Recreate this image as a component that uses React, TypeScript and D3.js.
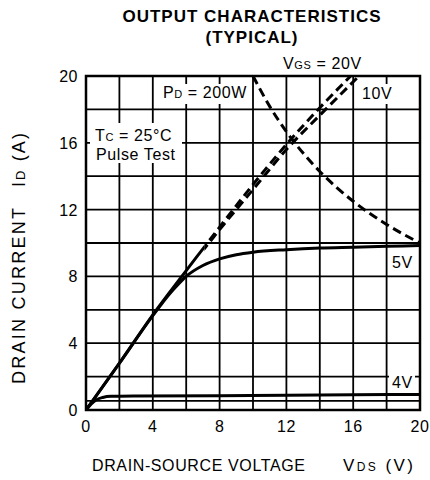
import React from 'react';
import * as d3 from 'd3';

const xTicks = [0, 4, 8, 12, 16, 20];
const yTicks = [0, 4, 8, 12, 16, 20];
const gridX = [2, 4, 6, 8, 10, 12, 14, 16, 18];
const gridY = [0.55, 2, 4, 6, 8, 10, 12, 14, 16, 18];

// VGS = 20V
const vgs20V = [0, 2, 4, 6, 7, 8, 10, 12, 14, 15.85];
const vgs20I = [0, 2.8, 5.7, 8.35, 9.65, 10.95, 13.5, 15.9, 18.1, 20];
// VGS = 10V
const vgs10V = [0, 2, 4, 6, 7, 8, 10, 12, 14, 16.35];
const vgs10I = [0, 2.8, 5.7, 8.3, 9.55, 10.8, 13.2, 15.6, 17.65, 20];
// VGS = 5V
const vgs5V = [0, 2, 4, 5, 5.5, 6, 7, 8, 9, 10, 12, 14, 16, 18, 20];
const vgs5I = [0, 2.8, 5.65, 6.95, 7.5, 8.0, 8.65, 9.05, 9.3, 9.45, 9.6, 9.7, 9.75, 9.8, 9.85];
// VGS = 4V
const vgs4V = [0, 0.3, 0.6, 1, 1.5, 3, 8, 12, 16, 20];
const vgs4I = [0, 0.35, 0.6, 0.75, 0.82, 0.84, 0.86, 0.88, 0.91, 0.93];
// PD = 200W
const pdV = [10, 11, 12, 13, 14, 15, 16, 17, 18, 19, 20];
const pdPower = 200;

const solidLimitV = 7.1;

export default function App() {
  const x = d3.scaleLinear().domain([0, 20]).range([86, 420]);
  const y = d3.scaleLinear().domain([0, 20]).range([410, 76]);
  const line = d3
    .line<[number, number]>()
    .x((d) => x(d[0]))
    .y((d) => y(d[1]))
    .curve(d3.curveMonotoneX);

  const zip = (a: number[], b: number[]) => a.map((v, i) => [v, b[i]] as [number, number]);
  const p20 = line(zip(vgs20V, vgs20I)) || '';
  const p10 = line(zip(vgs10V, vgs10I)) || '';
  const p5 = line(zip(vgs5V, vgs5I)) || '';
  const p4 = line(zip(vgs4V, vgs4I)) || '';
  const pPd = line(pdV.map((v) => [v, pdPower / v] as [number, number])) || '';

  const font = 'Liberation Sans, Arial, Helvetica, sans-serif';
  const dash = '9 5';
  const fs = 16;
  const ls = 0.6;
  const sub = 11;

  return (
    <svg
      width={430}
      height={480}
      style={{ position: 'absolute', left: 0, top: 0, background: '#fff' }}
      fontFamily={font}
    >
      <defs>
        <clipPath id="solidPart">
          <rect x={x(0) - 5} y={0} width={x(solidLimitV) - x(0) + 5} height={480} />
        </clipPath>
        <clipPath id="dashPart">
          <rect x={x(solidLimitV)} y={y(20)} width={x(20) - x(solidLimitV)} height={y(0) - y(20)} />
        </clipPath>
        <clipPath id="plot">
          <rect x={x(0)} y={y(20)} width={x(20) - x(0)} height={y(0) - y(20)} />
        </clipPath>
      </defs>
      <rect x={0} y={0} width={430} height={480} fill="#fff" />

      {/* Title */}
      <text x={252} y={22} textAnchor="middle" fontWeight="bold" fontSize={17} letterSpacing={1}>
        OUTPUT CHARACTERISTICS
      </text>
      <text x={252} y={43} textAnchor="middle" fontWeight="bold" fontSize={17} letterSpacing={1}>
        (TYPICAL)
      </text>

      {/* Grid */}
      {gridX.map((v) => (
        <line key={'gx' + v} x1={x(v)} x2={x(v)} y1={y(0)} y2={y(20)} stroke="#000" strokeWidth={1.8} />
      ))}
      {gridY.map((v) => (
        <line key={'gy' + v} x1={x(0)} x2={x(20)} y1={y(v)} y2={y(v)} stroke="#000" strokeWidth={1.8} />
      ))}

      {/* Label boxes */}
      <rect x={160} y={84} width={90} height={20} fill="#fff" />
      <rect x={90} y={123} width={92} height={40} fill="#fff" />
      <rect x={359} y={84} width={32} height={20} fill="#fff" />
      <rect x={389} y={254} width={26} height={20} fill="#fff" />
      <rect x={389} y={374} width={26} height={20} fill="#fff" />

      {/* Curves */}
      <g clipPath="url(#plot)" fill="none" stroke="#000" strokeLinecap="butt">
        <path d={p20} strokeWidth={3} clipPath="url(#solidPart)" />
        <g clipPath="url(#dashPart)">
          <path d={p20} strokeWidth={3} strokeDasharray={dash} />
          <path d={p10} strokeWidth={3} strokeDasharray={dash} />
        </g>
        <path d={p5} strokeWidth={3} />
        <path d={p4} strokeWidth={3} />
        <path d={pPd} strokeWidth={3} strokeDasharray={dash} />
      </g>

      {/* Border */}
      <rect
        x={x(0)}
        y={y(20)}
        width={x(20) - x(0)}
        height={y(0) - y(20)}
        fill="none"
        stroke="#000"
        strokeWidth={2.5}
      />

      {/* Axis ticks */}
      {yTicks.map((v) => (
        <text key={'yt' + v} x={78} y={y(v) + 6} textAnchor="end" fontSize={fs} letterSpacing={0.5}>
          {v}
        </text>
      ))}
      {xTicks.map((v) => (
        <text key={'xt' + v} x={x(v)} y={432} textAnchor="middle" fontSize={fs} letterSpacing={0.5}>
          {v}
        </text>
      ))}

      {/* Axis titles */}
      <text x={92} y={471} fontSize={fs} textLength={213} lengthAdjust="spacing">
        DRAIN-SOURCE VOLTAGE
      </text>
      <text x={343} y={471} fontSize={17} textLength={70} lengthAdjust="spacing">
        V<tspan fontSize={12}>DS</tspan> (V)
      </text>
      <text transform={`translate(25, 384) rotate(-90)`} fontSize={18} textLength={176} lengthAdjust="spacing">
        DRAIN CURRENT
      </text>
      <text transform={`translate(25, 187) rotate(-90)`} fontSize={18} textLength={54} lengthAdjust="spacing">
        I<tspan fontSize={13}>D</tspan> (A)
      </text>

      {/* Annotations */}
      <text x={283} y={69} fontSize={fs} letterSpacing={ls}>
        V<tspan fontSize={sub}>GS</tspan> = 20V
      </text>
      <text x={163} y={98} fontSize={fs} letterSpacing={ls}>
        P<tspan fontSize={sub}>D</tspan> = 200W
      </text>
      <text x={362} y={99} fontSize={fs} letterSpacing={ls}>
        10V
      </text>
      <text x={95} y={141} fontSize={fs} letterSpacing={ls}>
        T<tspan fontSize={sub}>C</tspan> = 25°C
      </text>
      <text x={96} y={160} fontSize={fs} letterSpacing={ls}>
        Pulse Test
      </text>
      <text x={392} y={268} fontSize={fs} letterSpacing={ls}>
        5V
      </text>
      <text x={392} y={388} fontSize={fs} letterSpacing={ls}>
        4V
      </text>
    </svg>
  );
}
